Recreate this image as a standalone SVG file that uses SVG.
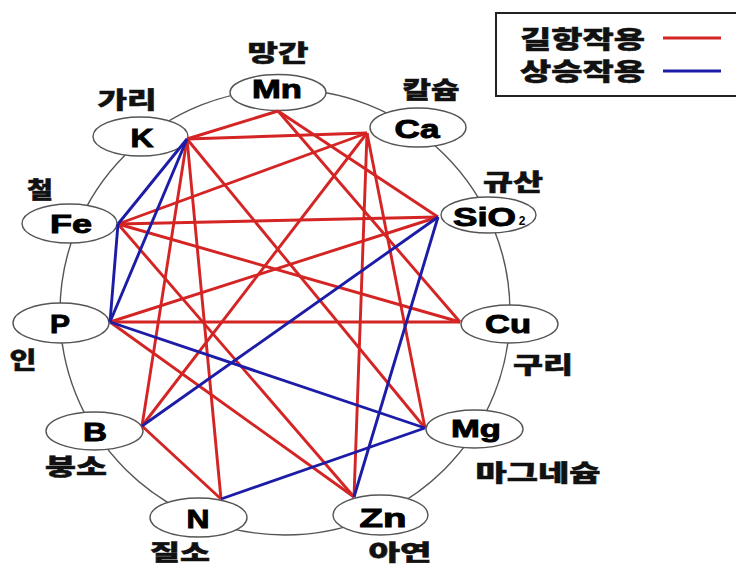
<svg xmlns="http://www.w3.org/2000/svg" width="736" height="567" viewBox="0 0 736 567">
<style>
.bg{fill:#ffffff}
.ring{fill:none;stroke:#555;stroke-width:1.4}
.node ellipse{fill:#ffffff;stroke:#555;stroke-width:1.4}
.sym{font-family:"Liberation Sans",Arial,sans-serif;font-weight:bold;font-size:25px;fill:#000;stroke:#000;stroke-width:0.9px;text-anchor:middle}
.sub{font-family:"Liberation Sans",Arial,sans-serif;font-weight:bold;font-size:12px;fill:#000;text-anchor:middle}
.kr{font-family:"Noto Sans CJK KR","Noto Sans",sans-serif;font-weight:900;font-size:23px;fill:#111;stroke:#111;stroke-width:0.5px;text-anchor:middle}
.kb{font-size:22px}
.lg{font-family:"Noto Sans CJK KR","Noto Sans",sans-serif;font-weight:900;font-size:24px;fill:#111;stroke:#111;stroke-width:0.5px}
.r{stroke:#d42424;stroke-width:2.9;fill:none}
.b{stroke:#1c1ca6;stroke-width:2.9;fill:none}
</style>
<rect class="bg" x="0" y="0" width="736" height="567"/>
<ellipse class="ring" cx="285" cy="312" rx="225" ry="223"/>

<g id="node-Mn" class="node"><ellipse cx="278" cy="92.5" rx="48" ry="18"/><text class="sym" x="277" y="98" textLength="50" lengthAdjust="spacingAndGlyphs">Mn</text><text class="kr" x="278" y="61" textLength="61" lengthAdjust="spacingAndGlyphs">망간</text></g>
<g id="node-K" class="node"><ellipse cx="140.5" cy="136.5" rx="47.5" ry="19.5"/><text class="sym" x="142" y="147" style="font-size:26px" textLength="23" lengthAdjust="spacingAndGlyphs">K</text><text class="kr" x="127" y="108" textLength="59" lengthAdjust="spacingAndGlyphs">가리</text></g>
<g id="node-Ca" class="node"><ellipse cx="418" cy="127.5" rx="48" ry="19.5"/><text class="sym" x="417" y="138" textLength="45" lengthAdjust="spacingAndGlyphs">Ca</text><text class="kr" x="431" y="98" textLength="57" lengthAdjust="spacingAndGlyphs">칼슘</text></g>
<g id="node-Fe" class="node"><ellipse cx="69.5" cy="223.5" rx="47.5" ry="19.5"/><text class="sym" x="71" y="233" textLength="42" lengthAdjust="spacingAndGlyphs">Fe</text><text class="kr" x="40" y="198" textLength="26" lengthAdjust="spacingAndGlyphs">철</text></g>
<g id="node-SiO2" class="node"><ellipse cx="488.5" cy="215" rx="47.5" ry="18"/><text class="sym" x="484.5" y="226" textLength="63" lengthAdjust="spacingAndGlyphs">SiO</text><text class="sub" x="522" y="225">2</text><text class="kr" x="513" y="190" textLength="60" lengthAdjust="spacingAndGlyphs">규산</text></g>
<g id="node-P" class="node"><ellipse cx="61" cy="323" rx="48" ry="20"/><text class="sym" x="60" y="333" style="font-size:26px" textLength="20" lengthAdjust="spacingAndGlyphs">P</text><text class="kr" x="23" y="368" textLength="27" lengthAdjust="spacingAndGlyphs">인</text></g>
<g id="node-Cu" class="node"><ellipse cx="509.5" cy="324" rx="48.5" ry="19"/><text class="sym" x="508" y="333" textLength="46" lengthAdjust="spacingAndGlyphs">Cu</text><text class="kr" x="543" y="373" textLength="60" lengthAdjust="spacingAndGlyphs">구리</text></g>
<g id="node-B" class="node"><ellipse cx="94.5" cy="431" rx="48.5" ry="19"/><text class="sym" x="95" y="441" style="font-size:26px" textLength="24" lengthAdjust="spacingAndGlyphs">B</text><text class="kr" x="76" y="475" textLength="62" lengthAdjust="spacingAndGlyphs">붕소</text></g>
<g id="node-Mg" class="node"><ellipse cx="474.5" cy="429" rx="48.5" ry="19"/><text class="sym" x="476" y="437" style="font-size:24px" textLength="50" lengthAdjust="spacingAndGlyphs">Mg</text><text class="kr" x="538" y="481" textLength="125" lengthAdjust="spacingAndGlyphs">마그네슘</text></g>
<g id="node-N" class="node"><ellipse cx="198.5" cy="517.5" rx="48.5" ry="19.5"/><text class="sym" x="198" y="528" textLength="23" lengthAdjust="spacingAndGlyphs">N</text><text class="kr kb" x="180" y="560" textLength="60" lengthAdjust="spacingAndGlyphs">질소</text></g>
<g id="node-Zn" class="node"><ellipse cx="380.5" cy="515" rx="47.5" ry="20"/><text class="sym" x="383" y="527" textLength="47" lengthAdjust="spacingAndGlyphs">Zn</text><text class="kr kb" x="400" y="560" textLength="63" lengthAdjust="spacingAndGlyphs">아연</text></g>

<g id="connectors">
<line class="r" x1="187" y1="139" x2="278" y2="111"/>
<line class="r" x1="187" y1="139" x2="367" y2="133"/>
<line class="r" x1="187" y1="139" x2="142" y2="426"/>
<line class="r" x1="187" y1="139" x2="221" y2="499"/>
<line class="r" x1="187" y1="139" x2="425" y2="428"/>
<line class="r" x1="278" y1="111" x2="438" y2="217"/>
<line class="r" x1="278" y1="111" x2="460" y2="322"/>
<line class="r" x1="367" y1="133" x2="118" y2="224"/>
<line class="r" x1="367" y1="133" x2="142" y2="426"/>
<line class="r" x1="367" y1="133" x2="354" y2="497"/>
<line class="r" x1="367" y1="133" x2="425" y2="428"/>
<line class="r" x1="118" y1="224" x2="438" y2="217"/>
<line class="r" x1="118" y1="224" x2="460" y2="322"/>
<line class="r" x1="118" y1="224" x2="354" y2="497"/>
<line class="r" x1="110" y1="322" x2="438" y2="217"/>
<line class="r" x1="110" y1="322" x2="460" y2="322"/>
<line class="r" x1="110" y1="322" x2="354" y2="497"/>
<line class="r" x1="142" y1="426" x2="221" y2="499"/>
<line class="b" x1="187" y1="139" x2="118" y2="224"/>
<line class="b" x1="187" y1="139" x2="110" y2="322"/>
<line class="b" x1="118" y1="224" x2="110" y2="322"/>
<line class="b" x1="110" y1="322" x2="425" y2="428"/>
<line class="b" x1="142" y1="426" x2="438" y2="217"/>
<line class="b" x1="221" y1="499" x2="425" y2="428"/>
<line class="b" x1="354" y1="497" x2="438" y2="217"/>
</g>

<g id="legend">
<rect x="496" y="13" width="250" height="83" fill="#fff" stroke="#222" stroke-width="2"/>
<text class="lg" x="520" y="48" textLength="125" lengthAdjust="spacingAndGlyphs">길항작용</text>
<text class="lg" x="520" y="80" textLength="125" lengthAdjust="spacingAndGlyphs">상승작용</text>
<line class="r" x1="663" y1="38" x2="721" y2="38" style="stroke-width:3.2px"/>
<line class="b" x1="663" y1="71" x2="721" y2="71" style="stroke-width:3.2px"/>
</g>
</svg>
